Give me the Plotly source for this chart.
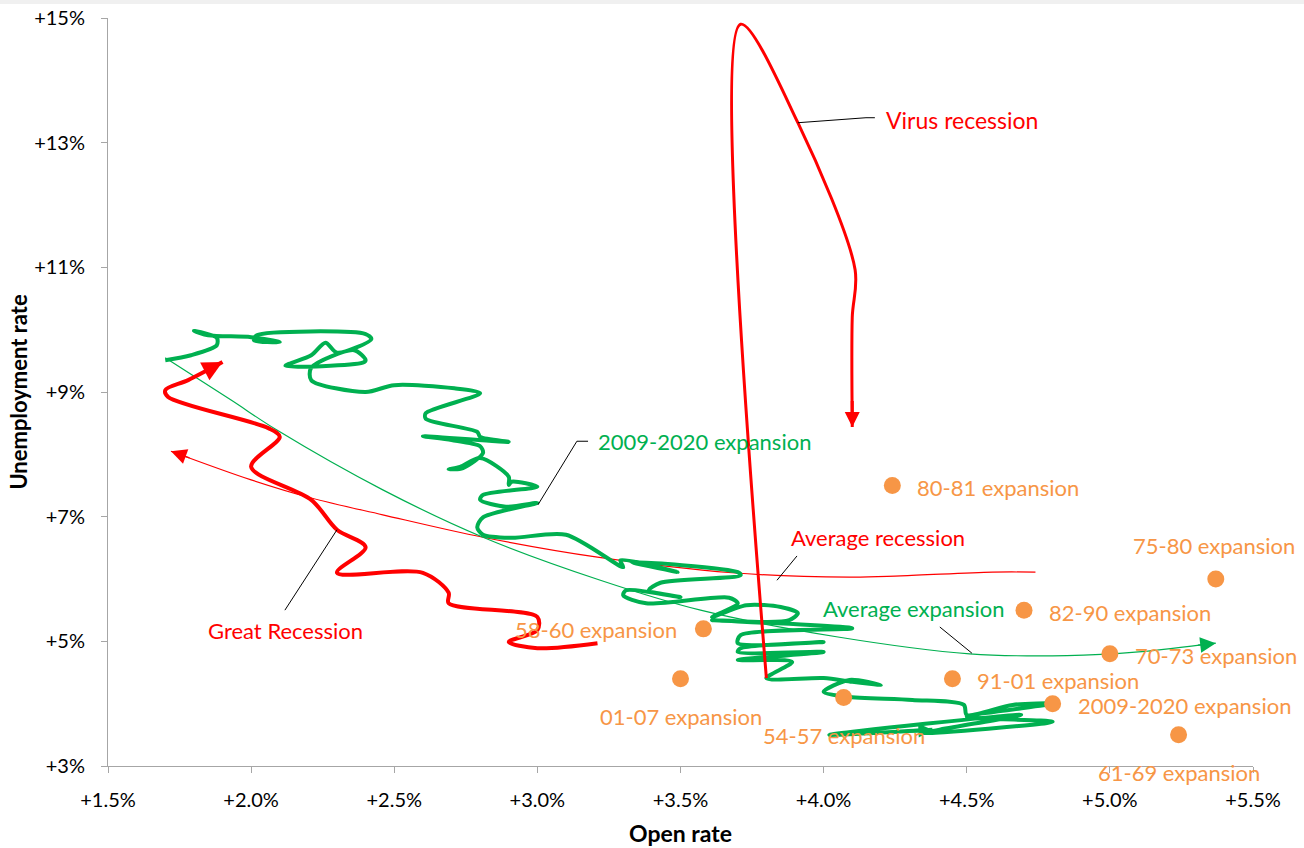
import plotly.graph_objects as go

# 2009-2020 expansion, monthly path (job openings rate %, unemployment rate %)
exp0920_open = [1.70, 1.79, 1.88, 1.88, 1.80, 1.85, 2.00, 2.10, 2.01, 2.02, 2.40, 2.42, 2.30, 2.26,
                2.21, 2.12, 2.39, 2.40, 2.36, 2.21, 2.21, 2.40, 2.50, 2.71, 2.80, 2.61, 2.61, 2.79,
                2.80, 2.90, 2.60, 2.70, 2.80, 2.81, 2.74, 2.69, 2.73, 2.80, 2.90, 2.90, 2.91, 3.00,
                2.81, 2.80, 2.89, 3.00, 2.81, 2.79, 2.81, 2.91, 3.10, 3.30, 3.29, 3.49, 3.33, 3.70,
                3.71, 3.43, 3.39, 3.50, 3.31, 3.30, 3.38, 3.67, 3.70, 3.61, 3.73, 3.85, 3.91, 3.88,
                3.79, 3.61, 4.10, 3.71, 3.70, 4.00, 3.71, 3.70, 4.00, 3.70, 3.89, 3.80, 4.00, 4.10,
                4.20, 4.09, 4.00, 4.08, 4.31, 4.49, 4.50, 4.66, 4.80, 4.50, 4.80, 4.35, 4.69, 4.02,
                4.38]
exp0920_unemp = [9.51, 9.59, 9.75, 9.87, 9.98, 9.91, 9.88, 9.80, 9.83, 9.91, 9.93, 9.85, 9.63, 9.79,
                 9.59, 9.42, 9.47, 9.51, 9.67, 9.39, 9.19, 9.00, 9.11, 9.06, 8.98, 8.66, 8.57, 8.36,
                 8.28, 8.20, 8.29, 8.23, 8.13, 8.02, 7.78, 7.76, 7.80, 7.94, 7.64, 7.51, 7.56, 7.48,
                 7.35, 7.27, 7.16, 7.22, 6.99, 6.83, 6.71, 6.66, 6.71, 6.19, 6.30, 6.11, 6.27, 6.11,
                 6.06, 5.94, 5.82, 5.71, 5.82, 5.74, 5.61, 5.70, 5.61, 5.39, 5.58, 5.55, 5.45, 5.34,
                 5.31, 5.34, 5.21, 5.10, 4.97, 4.99, 4.89, 4.83, 4.83, 4.70, 4.67, 4.41, 4.41, 4.35,
                 4.30, 4.38, 4.19, 4.11, 4.06, 3.98, 3.82, 3.98, 4.00, 3.79, 3.71, 3.53, 3.82, 3.50,
                 3.58]

great_rec_open = [3.21, 3.00, 2.90, 3.00, 3.00, 2.69, 2.69, 2.60, 2.30, 2.40, 2.30, 2.21, 2.00,
                  2.10, 2.06, 1.71, 1.70, 1.78, 1.90]
great_rec_unemp = [4.97, 4.89, 4.99, 5.18, 5.39, 5.61, 5.78, 6.10, 6.10, 6.51, 6.79, 7.27, 7.80,
                   8.28, 8.42, 8.92, 9.03, 9.19, 9.48]

virus_open = [3.80, 3.71, 3.91, 4.11, 4.10, 4.10]
virus_unemp = [4.41, 14.9, 13.32, 10.96, 10.20, 8.44]

avg_rec_open = [4.74, 4.59, 4.27, 4.09, 3.68, 3.21, 2.81, 2.46, 2.21, 2.00, 1.72]
avg_rec_unemp = [6.11, 6.11, 6.05, 6.03, 6.10, 6.35, 6.67, 7.03, 7.30, 7.59, 8.05]

avg_exp_open = [1.70, 1.93, 2.09, 2.46, 2.81, 3.22, 3.57, 4.05, 4.51, 4.85, 5.10, 5.37]
avg_exp_unemp = [9.55, 8.87, 8.39, 7.43, 6.67, 5.98, 5.50, 5.07, 4.80, 4.77, 4.83, 4.97]

# end points of past expansions
peak_names = ["80-81 expansion", "75-80 expansion", "82-90 expansion", "58-60 expansion",
              "70-73 expansion", "01-07 expansion", "91-01 expansion", "54-57 expansion",
              "2009-2020 expansion", "61-69 expansion"]
peak_open = [4.24, 5.37, 4.70, 3.58, 5.00, 3.50, 4.45, 4.07, 4.80, 5.24]
peak_unemp = [7.50, 6.00, 5.50, 5.20, 4.80, 4.40, 4.40, 4.10, 4.00, 3.50]
# where each label sits relative to its dot
peak_label_side = ["right", "above", "right", "left", "right", "below", "right", "below",
                   "right", "below"]

RED = "#ff0000"
GREEN = "#00b050"
ORANGE = "#f79646"
FONT = "Lato"
LABEL_SIZE = 22

fig = go.Figure()

fig.add_trace(go.Scatter(x=avg_rec_open, y=avg_rec_unemp, mode="lines",
                         line=dict(color=RED, width=1.2, shape="spline"), hoverinfo="skip"))
fig.add_trace(go.Scatter(x=avg_exp_open, y=avg_exp_unemp, mode="lines",
                         line=dict(color=GREEN, width=1.2, shape="spline"), hoverinfo="skip"))
fig.add_trace(go.Scatter(x=exp0920_open, y=exp0920_unemp, mode="lines",
                         line=dict(color=GREEN, width=4, shape="spline", smoothing=0.8)))
fig.add_trace(go.Scatter(x=great_rec_open, y=great_rec_unemp, mode="lines",
                         line=dict(color=RED, width=4, shape="spline", smoothing=0.9)))
fig.add_trace(go.Scatter(x=virus_open, y=virus_unemp, mode="lines",
                         line=dict(color=RED, width=3, shape="spline", smoothing=0.9)))
fig.add_trace(go.Scatter(x=peak_open, y=peak_unemp, mode="markers",
                         marker=dict(color=ORANGE, size=17)))


def add_arrow(xs, ys, color, width, size):
    # arrow head at the last point, pointing along the final segment
    tx = xs[-1] + 0.25 * (xs[-2] - xs[-1])
    ty = ys[-1] + 0.25 * (ys[-2] - ys[-1])
    fig.add_annotation(x=xs[-1], y=ys[-1], ax=tx, ay=ty, xref="x", yref="y",
                       axref="x", ayref="y", text="", showarrow=True, arrowhead=2,
                       arrowsize=size, arrowwidth=width, arrowcolor=color, standoff=0)


add_arrow(avg_rec_open, avg_rec_unemp, RED, 1.2, 2.6)
add_arrow(avg_exp_open, avg_exp_unemp, GREEN, 1.2, 2.6)
add_arrow(exp0920_open, exp0920_unemp, GREEN, 3.5, 0.8)
add_arrow(great_rec_open, great_rec_unemp, RED, 4, 1.0)
add_arrow(virus_open, virus_unemp, RED, 3, 1.0)

# labels of the orange dots
for name, x, y, side in zip(peak_names, peak_open, peak_unemp, peak_label_side):
    kw = dict(right=dict(xanchor="left", xshift=23, yshift=-2),
              left=dict(xanchor="right", xshift=-24, yshift=-1),
              above=dict(xanchor="center", xshift=-2, yshift=34),
              below=dict(xanchor="center", xshift=0, yshift=-38))[side]
    fig.add_annotation(x=x, y=y, text=name, showarrow=False, yanchor="middle",
                       font=dict(family=FONT, size=LABEL_SIZE, color=ORANGE), **kw)

# series labels with leader lines
series_labels = [
    ("Virus recession", 4.21, 13.36, RED, "left", 23),
    ("2009-2020 expansion", 3.205, 8.21, GREEN, "left", 22),
    ("Average recession", 3.88, 6.66, RED, "left", 22),
    ("Average expansion", 3.99, 5.53, GREEN, "left", 22),
    ("Great Recession", 2.12, 5.17, RED, "center", 22),
]
for text, x, y, color, anchor, size in series_labels:
    fig.add_annotation(x=x, y=y, text=text, showarrow=False, xanchor=anchor, yanchor="middle",
                       font=dict(family=FONT, size=size, color=color))

leaders = [
    "M3.91,13.32 L4.148,13.40 L4.179,13.40",
    "M3.002,7.19 L3.138,8.21 L3.177,8.21",
    "M3.837,5.98 L3.907,6.37",
    "M4.406,5.23 L4.518,4.81",
    "M2.30,6.79 L2.118,5.50",
]
for p in leaders:
    fig.add_shape(type="path", path=p, xref="x", yref="y", line=dict(color="black", width=1))

# thin grey band at the very top (cropped header of the source)
fig.add_shape(type="rect", xref="paper", yref="paper", x0=-0.2, x1=1.1, y0=1.0187, y1=1.03,
              fillcolor="#f0f0f0", line=dict(width=0), layer="below")

axis_common = dict(showgrid=False, zeroline=False, showline=True, linecolor="#a6a6a6",
                   linewidth=1, ticks="outside", tickcolor="#a6a6a6", ticklen=6,
                   tickfont=dict(family=FONT, size=20, color="black"),
                   tickprefix="+", ticksuffix="%", automargin=False)

fig.update_layout(
    width=1304, height=848,
    margin=dict(l=108, r=51, t=18, b=82),
    paper_bgcolor="white", plot_bgcolor="white",
    showlegend=False,
    font=dict(family=FONT),
    xaxis=dict(range=[1.5, 5.5], tick0=1.5, dtick=0.5, tickformat=".1f",
               ticklabelstandoff=10,
               title=dict(text="<b>Open rate</b>", standoff=15,
                          font=dict(family=FONT, size=23, color="black")),
               **axis_common),
    yaxis=dict(range=[3, 15], tick0=3, dtick=2, ticklabelstandoff=12,
               title=dict(text="<b>Unemployment rate</b>", standoff=0,
                          font=dict(family=FONT, size=22, color="black")),
               **axis_common),
)

# drop the default page margin so the figure fills the window exactly
fig.write_html("out.html", config={"displayModeBar": False},
               post_script="document.body.style.margin = '0';")
